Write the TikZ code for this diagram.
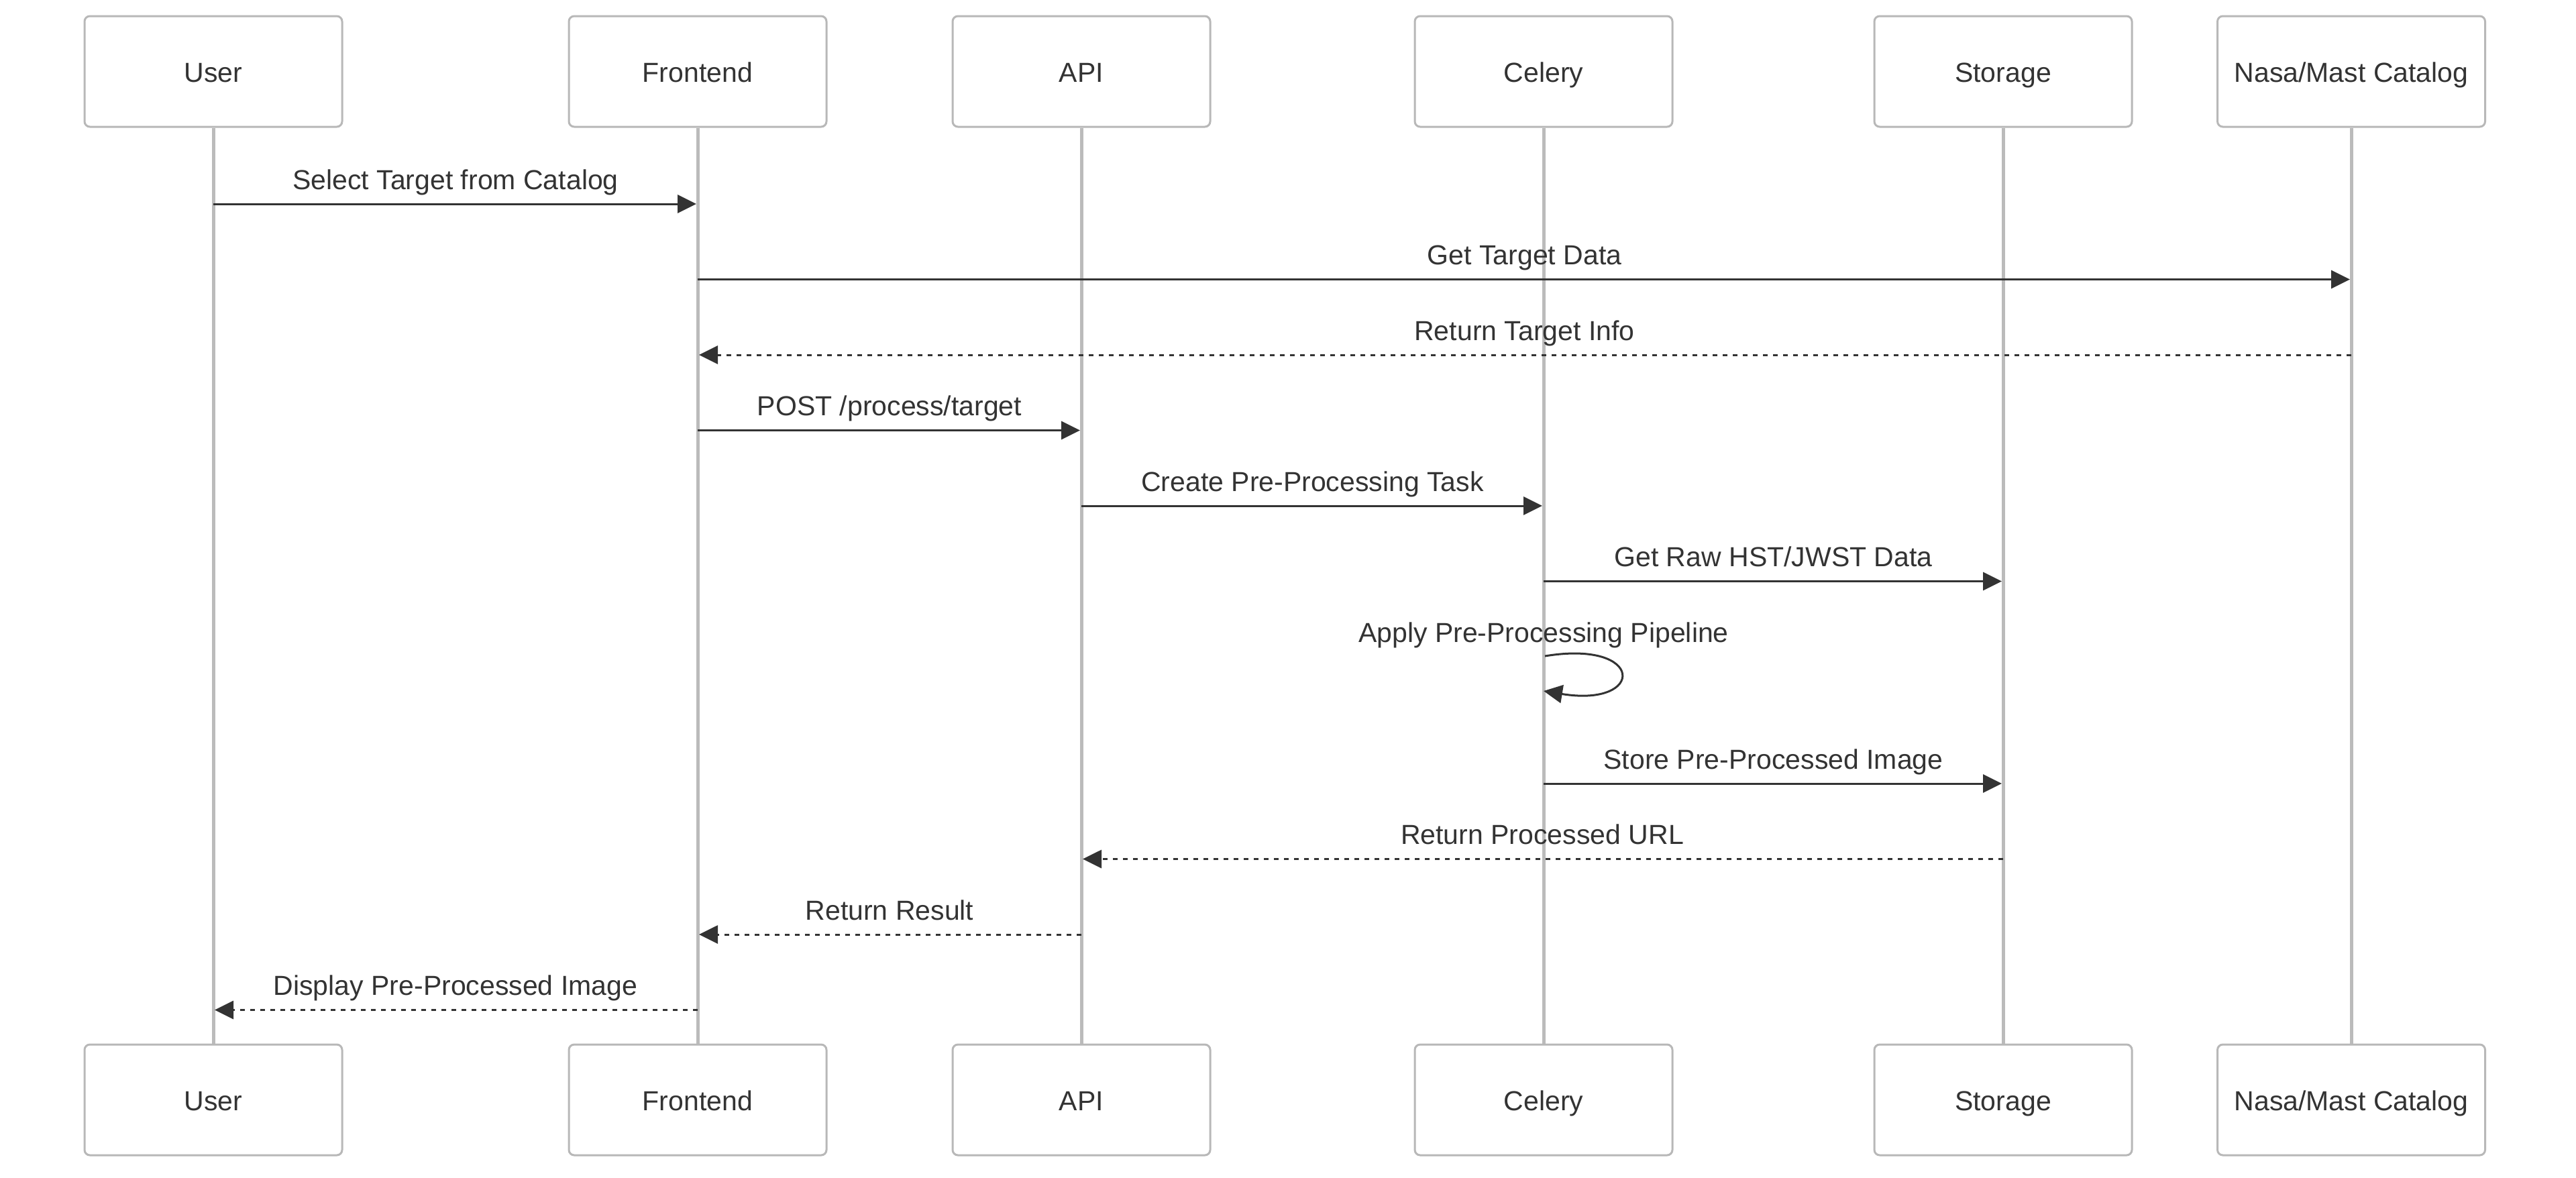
\documentclass[tikz,border=0pt]{standalone}
\usepackage{fontspec}
\setmainfont{Liberation Sans}
\usetikzlibrary{arrows.meta,calc}
\definecolor{txt}{HTML}{333333}
\definecolor{boxline}{HTML}{B8B8B8}
\definecolor{lifeline}{HTML}{BBBBBB}
\tikzset{
  actor/.style={draw=boxline, line width=0.03cm, fill=white, rounded corners=0.08cm,
    minimum width=3.84cm, minimum height=1.65cm, text=txt, inner sep=0pt,
    text height=0.40cm, text depth=0.08cm,
    font=\fontsize{11.67pt}{14pt}\selectfont},
  wideactor/.style={actor, minimum width=3.99cm},
  life/.style={draw=lifeline, line width=0.05cm},
  msg/.style={draw=txt, line width=0.03cm, -{Triangle[length=0.28cm,width=0.27cm]}, shorten >=0.02cm},
  reply/.style={msg, dash pattern=on 0.075cm off 0.075cm},
  lbl/.style={text=txt, font=\fontsize{11.67pt}{14pt}\selectfont, anchor=base, inner sep=0pt}
}
\begin{document}
\begin{tikzpicture}
\useasboundingbox (0,0) rectangle (38.4,-17.55);
% top actors
\node[actor] (uT) at (3.18,-1.065) {User};
\node[actor] (fT) at (10.40,-1.065) {Frontend};
\node[actor] (aT) at (16.12,-1.065) {API};
\node[actor] (cT) at (23.01,-1.065) {Celery};
\node[actor] (sT) at (29.86,-1.065) {Storage};
\node[wideactor] (nT) at (35.05,-1.065) {Nasa/Mast Catalog};
% bottom actors
\node[actor] (uB) at (3.18,-16.395) {User};
\node[actor] (fB) at (10.40,-16.395) {Frontend};
\node[actor] (aB) at (16.12,-16.395) {API};
\node[actor] (cB) at (23.01,-16.395) {Celery};
\node[actor] (sB) at (29.86,-16.395) {Storage};
\node[wideactor] (nB) at (35.05,-16.395) {Nasa/Mast Catalog};
% lifelines
\foreach \a in {u,f,a,c,s,n}{
  \draw[life] (\a T.south) -- (\a B.north);
}
% messages
\draw[msg] (uT.center |- 0,-3.04) -- node[lbl, yshift=0.22cm] {Select Target from Catalog} (fT.center |- 0,-3.04);
\draw[msg] (fT.center |- 0,-4.165) -- node[lbl, yshift=0.22cm] {Get Target Data} (nT.center |- 0,-4.165);
\draw[reply] (nT.center |- 0,-5.29) -- node[lbl, yshift=0.22cm] {Return Target Info} (fT.center |- 0,-5.29);
\draw[msg] (fT.center |- 0,-6.415) -- node[lbl, yshift=0.22cm] {POST /process/target} (aT.center |- 0,-6.415);
\draw[msg] (aT.center |- 0,-7.54) -- node[lbl, yshift=0.22cm] {Create Pre-Processing Task} (cT.center |- 0,-7.54);
\draw[msg] (cT.center |- 0,-8.665) -- node[lbl, yshift=0.22cm] {Get Raw HST/JWST Data} (sT.center |- 0,-8.665);
% self loop
\node[lbl] (selfl) at (cT.center |- 0,-9.57) {Apply Pre-Processing Pipeline};
\coordinate (ls) at ($(cT.center |- 0,-9.78)+(0.02,0)$);
\coordinate (le) at ($(cT.center |- 0,-10.30)+(0.0,0)$);
\draw[msg, shorten >=0pt] (ls) .. controls ($(ls)+(1.50,0.25)$) and ($(le)+(1.52,-0.25)$) .. (le);
\draw[msg] (cT.center |- 0,-11.68) -- node[lbl, yshift=0.22cm] {Store Pre-Processed Image} (sT.center |- 0,-11.68);
\draw[reply] (sT.center |- 0,-12.805) -- node[lbl, yshift=0.22cm] {Return Processed URL} (aT.center |- 0,-12.805);
\draw[reply] (aT.center |- 0,-13.93) -- node[lbl, yshift=0.22cm] {Return Result} (fT.center |- 0,-13.93);
\draw[reply] (fT.center |- 0,-15.055) -- node[lbl, yshift=0.22cm] {Display Pre-Processed Image} (uT.center |- 0,-15.055);
\end{tikzpicture}
\end{document}
